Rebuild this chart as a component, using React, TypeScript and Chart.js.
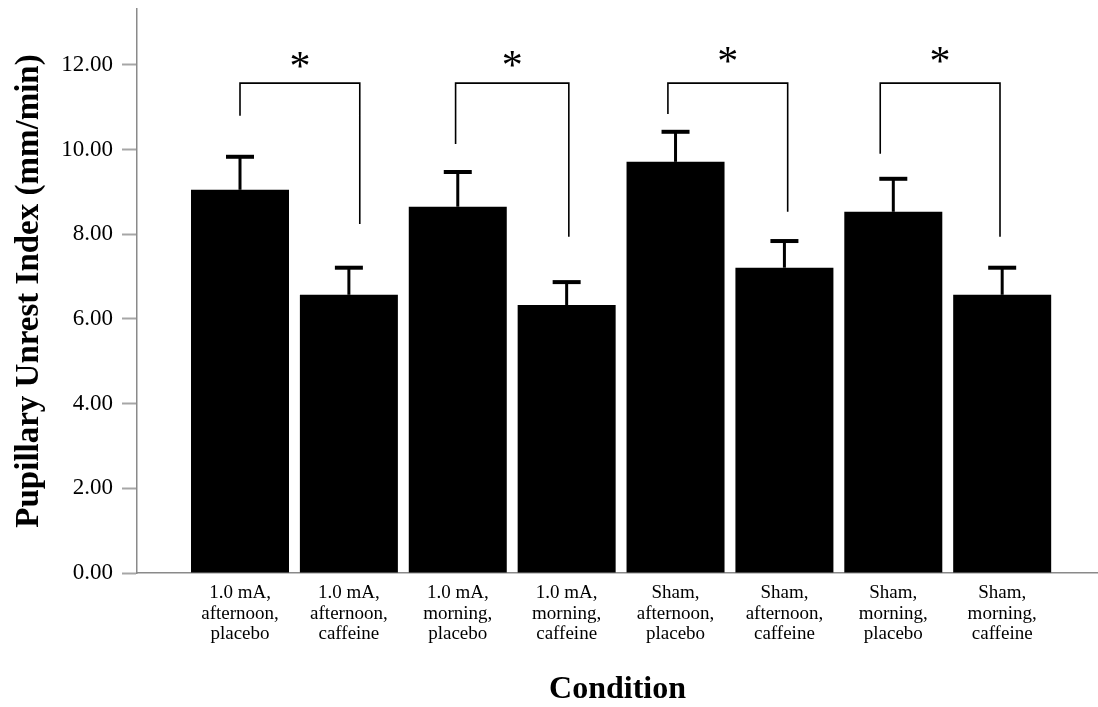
import React, { useEffect, useRef } from 'react';
import { Chart, registerables } from 'chart.js';

Chart.register(...registerables);

// ---- data ----
const categories = [
  '1.0 mA, afternoon, placebo',
  '1.0 mA, afternoon, caffeine',
  '1.0 mA, morning, placebo',
  '1.0 mA, morning, caffeine',
  'Sham, afternoon, placebo',
  'Sham, afternoon, caffeine',
  'Sham, morning, placebo',
  'Sham, morning, caffeine',
];
const means = [9.05, 6.57, 8.65, 6.33, 9.71, 7.21, 8.53, 6.57];
const errors = [0.78, 0.64, 0.82, 0.54, 0.71, 0.63, 0.78, 0.64];
const yTickValues = [0, 2, 4, 6, 8, 10, 12];

// significance brackets (x in category positions 1..8, y in data units)
const bracketLeftX = [1.0, 2.98, 4.93, 6.88];
const bracketRightX = [2.1, 4.02, 6.03, 7.98];
const bracketTopY = [11.57, 11.57, 11.57, 11.57];
const bracketLeftBottomY = [10.8, 10.13, 10.84, 9.9];
const bracketRightBottomY = [8.24, 7.94, 8.53, 7.94];
const starY = [12.12, 12.14, 12.24, 12.24];
const starLabel = '*';

const yTitle = 'Pupillary Unrest Index (mm/min)';
const xTitle = 'Condition';

const FONT = "'Liberation Serif', 'Times New Roman', serif";

const annotations = {
  id: 'annotations',
  afterDatasetsDraw(chart: any) {
    const { ctx } = chart;
    const x = chart.scales.x;
    const y = chart.scales.y;
    ctx.save();
    ctx.strokeStyle = '#000';
    ctx.lineCap = 'butt';
    // error bars
    means.forEach((m: number, i: number) => {
      const cx = x.getPixelForValue(i + 1);
      const yb = y.getPixelForValue(m);
      const yt = y.getPixelForValue(m + errors[i]);
      ctx.lineWidth = 3;
      ctx.beginPath();
      ctx.moveTo(cx, yb);
      ctx.lineTo(cx, yt);
      ctx.stroke();
      ctx.lineWidth = 4;
      ctx.beginPath();
      ctx.moveTo(cx - 14, yt);
      ctx.lineTo(cx + 14, yt);
      ctx.stroke();
    });
    // brackets
    ctx.lineWidth = 1.6;
    bracketLeftX.forEach((lx: number, i: number) => {
      const x1 = x.getPixelForValue(lx);
      const x2 = x.getPixelForValue(bracketRightX[i]);
      const yt = y.getPixelForValue(bracketTopY[i]);
      const yl = y.getPixelForValue(bracketLeftBottomY[i]);
      const yr = y.getPixelForValue(bracketRightBottomY[i]);
      ctx.beginPath();
      ctx.moveTo(x1, yl);
      ctx.lineTo(x1, yt);
      ctx.lineTo(x2, yt);
      ctx.lineTo(x2, yr);
      ctx.stroke();
      // star
      ctx.font = `42px ${FONT}`;
      ctx.fillStyle = '#000';
      ctx.textAlign = 'center';
      ctx.textBaseline = 'alphabetic';
      const mt = ctx.measureText(starLabel);
      const cy = y.getPixelForValue(starY[i]);
      const off = (mt.actualBoundingBoxAscent - mt.actualBoundingBoxDescent) / 2;
      ctx.fillText(starLabel, (x1 + x2) / 2, cy + off);
    });
    ctx.restore();
  },
};

export default function App() {
  const ref = useRef<HTMLCanvasElement>(null);
  useEffect(() => {
    if (!ref.current) return;
    const chart = new Chart(ref.current, {
      type: 'bar',
      data: {
        datasets: [
          {
            data: means.map((v, i) => ({ x: i + 1, y: v })),
            backgroundColor: '#000',
            borderWidth: 0,
            barPercentage: 0.9,
            categoryPercentage: 1,
          },
        ],
      },
      options: {
        responsive: false,
        animation: false,
        events: [],
        layout: { padding: { top: 9, right: 0, left: 0, bottom: 0 } },
        plugins: {
          legend: { display: false },
          tooltip: { enabled: false },
        },
        scales: {
          x: {
            type: 'linear',
            offset: false,
            min: 0.054,
            max: 8.88,
            grid: { display: false, drawTicks: false },
            border: { display: true, color: '#8a8a8a', width: 1.5 },
            afterBuildTicks: (scale: any) => {
              scale.ticks = categories.map((_, i) => ({ value: i + 1 }));
            },
            afterFit: (scale: any) => {
              scale.height = 134;
              scale.paddingLeft = 0;
              scale.paddingRight = 0;
            },
            ticks: {
              autoSkip: false,
              maxRotation: 0,
              minRotation: 0,
              padding: 10,
              color: '#000',
              font: { family: FONT, size: 19, lineHeight: 1.08 },
              callback: (value: any) => {
                const c = categories[Math.round(Number(value)) - 1];
                if (!c) return '';
                const parts = c.split(', ');
                return parts.map((p, j) => (j < parts.length - 1 ? p + ',' : p));
              },
            },
            title: {
              display: true,
              text: xTitle,
              color: '#000',
              font: { family: FONT, size: 32, weight: 'bold', lineHeight: 1.0 },
              padding: { top: 0, bottom: 1 },
            },
          },
          y: {
            type: 'linear',
            min: 0,
            max: 13.32,
            grid: {
              drawOnChartArea: false,
              drawTicks: true,
              tickLength: 15,
              tickColor: '#a6a6a6',
              tickWidth: 2,
            },
            border: { display: true, color: '#8a8a8a', width: 1.5 },
            afterBuildTicks: (scale: any) => {
              scale.ticks = yTickValues.map((v) => ({ value: v }));
            },
            afterFit: (scale: any) => {
              scale.width = 137;
              scale.paddingTop = 0;
              scale.paddingBottom = 0;
            },
            ticks: {
              padding: 9,
              color: '#000',
              font: { family: FONT, size: 23 },
              callback: (value: any) => Number(value).toFixed(2),
            },
            title: {
              display: true,
              text: yTitle,
              color: '#000',
              font: { family: FONT, size: 33, weight: 'bold', lineHeight: 1.2 },
              padding: { top: 10, bottom: 0 },
            },
          },
        },
      },
      plugins: [annotations],
    } as any);
    return () => chart.destroy();
  }, []);
  return (
    <div style={{ position: 'fixed', left: 0, top: 0, width: 1098, height: 707, background: '#fff' }}>
      <canvas ref={ref} width={1098} height={707} style={{ display: 'block' }} />
    </div>
  );
}
